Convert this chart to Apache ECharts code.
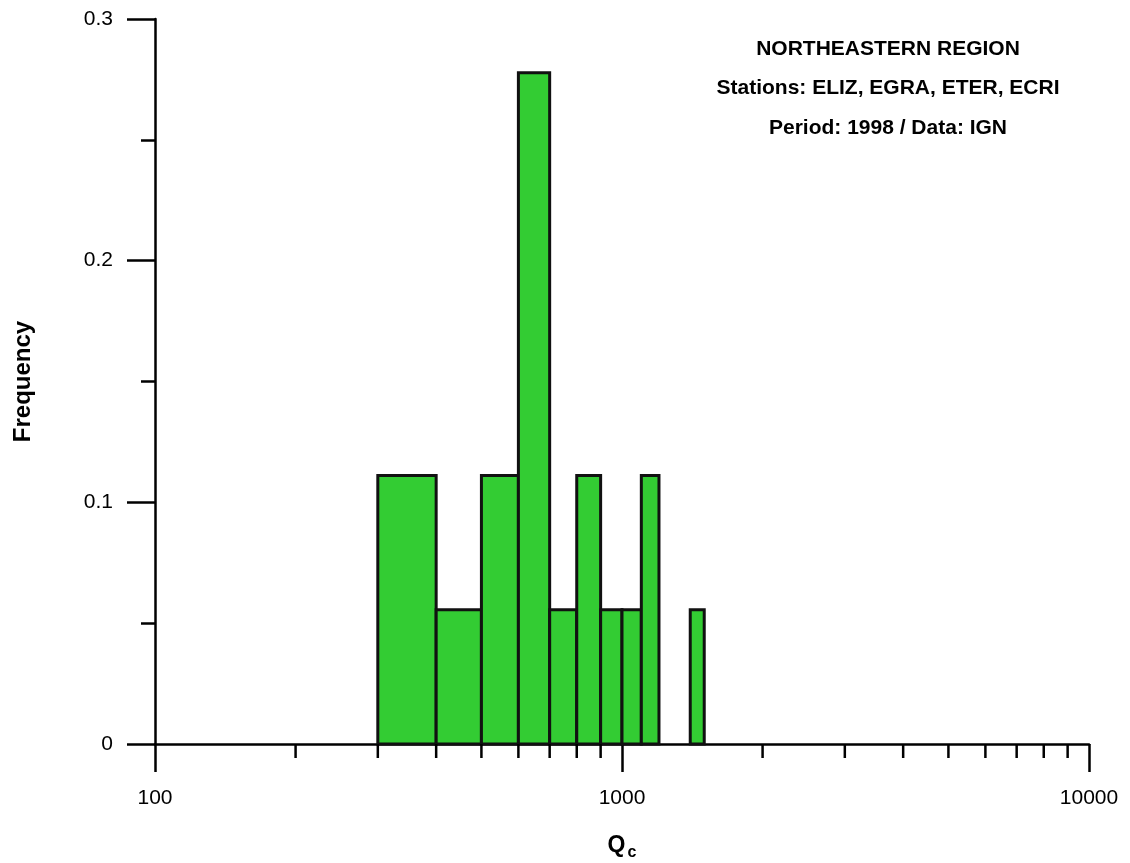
<!DOCTYPE html>
<html>
<head>
<meta charset="utf-8">
<title>Qc histogram - Northeastern region</title>
<script src="https://cdn.jsdelivr.net/npm/echarts@6/dist/echarts.min.js"></script>
<style>
  html, body { margin: 0; padding: 0; background: #fff; }
  #chart { width: 1130px; height: 863px; }
</style>
</head>
<body>
<div id="chart"></div>
<script>
// Histogram bins of Qc (lower edge, upper edge) and relative frequency
const binStart = [300, 400, 500, 600, 700, 800, 900, 1000, 1100, 1400];
const binEnd   = [400, 500, 600, 700, 800, 900, 1000, 1100, 1200, 1500];
const frequency = [0.1111, 0.0556, 0.1111, 0.2778, 0.0556, 0.1111, 0.0556, 0.0556, 0.1111, 0.0556];

// Minor ticks of the logarithmic Qc axis
const minorTicksX = [200, 300, 400, 500, 600, 700, 800, 900,
                     2000, 3000, 4000, 5000, 6000, 7000, 8000, 9000];

const titleLines = [
  'NORTHEASTERN REGION',
  'Stations: ELIZ, EGRA, ETER, ECRI',
  'Period: 1998 / Data: IGN'
];

const FONT = "'Liberation Sans', Arial, sans-serif";
const INK = '#000';
const LW = 2.5;

const bins = binStart.map((s, i) => [s, binEnd[i], frequency[i]]);

const chart = echarts.init(document.getElementById('chart'), null, { renderer: 'canvas' });

chart.setOption({
  animation: false,
  backgroundColor: '#fff',
  title: {
    text: titleLines.join('\n'),
    left: 888,
    top: 29,
    padding: 0,
    textAlign: 'center',
    textStyle: {
      fontFamily: FONT, fontSize: 21, fontWeight: 'bold', color: INK, lineHeight: 39.5
    }
  },
  grid: {
    left: 155, right: 41, top: 19, bottom: 119,
    containLabel: false,
    outerBoundsMode: 'none'
  },
  xAxis: {
    type: 'log',
    logBase: 10,
    min: 100,
    max: 10000,
    name: 'Q{sub|c}',
    nameLocation: 'middle',
    nameGap: 86,
    nameTextStyle: {
      fontFamily: FONT, fontSize: 23, fontWeight: 'bold', color: INK,
      verticalAlign: 'top',
      rich: {
        sub: { fontFamily: FONT, fontSize: 16, fontWeight: 'bold', color: INK,
               verticalAlign: 'top', padding: [15, 0, 0, 2] }
      }
    },
    axisLine: { show: true, onZero: false, lineStyle: { color: INK, width: LW } },
    axisTick: { show: true, length: 28, lineStyle: { color: INK, width: LW } },
    axisLabel: {
      margin: 44, fontFamily: FONT, fontSize: 21, color: INK,
      formatter: v => String(Math.round(v))
    },
    splitLine: { show: false },
    minorTick: { show: false },
    minorSplitLine: { show: false }
  },
  yAxis: {
    type: 'value',
    min: 0,
    max: 0.3,
    interval: 0.1,
    name: 'Frequency',
    nameLocation: 'middle',
    nameGap: 120,
    nameRotate: 90,
    nameTextStyle: { fontFamily: FONT, fontSize: 24, fontWeight: 'bold', color: INK },
    axisLine: { show: true, onZero: false, lineStyle: { color: INK, width: LW } },
    axisTick: { show: true, length: 28, lineStyle: { color: INK, width: LW } },
    minorTick: { show: true, splitNumber: 2, length: 14, lineStyle: { color: INK, width: LW } },
    axisLabel: {
      margin: 42, fontFamily: FONT, fontSize: 21, color: INK,
      formatter: v => (v === 0 ? '0' : v.toFixed(1))
    },
    splitLine: { show: false },
    minorSplitLine: { show: false }
  },
  series: [
    {
      // histogram bars spanning each bin on the log axis
      type: 'custom',
      data: bins,
      encode: { x: [0, 1], y: 2 },
      z: 1,
      renderItem: function (params, api) {
        const p0 = api.coord([api.value(0), 0]);
        const p1 = api.coord([api.value(1), api.value(2)]);
        return {
          type: 'rect',
          shape: { x: p0[0], y: p1[1], width: p1[0] - p0[0], height: p0[1] - p1[1] },
          style: { fill: '#33cc33', stroke: '#111', lineWidth: 3 }
        };
      }
    },
    {
      // minor ticks below the Qc axis
      type: 'custom',
      data: minorTicksX.map(v => [v]),
      encode: { x: 0 },
      clip: false,
      silent: true,
      z: 3,
      renderItem: function (params, api) {
        const p = api.coord([api.value(0), 0]);
        return {
          type: 'line',
          shape: { x1: p[0], y1: p[1], x2: p[0], y2: p[1] + 14 },
          style: { stroke: INK, lineWidth: LW }
        };
      }
    }
  ]
});
</script>
</body>
</html>
